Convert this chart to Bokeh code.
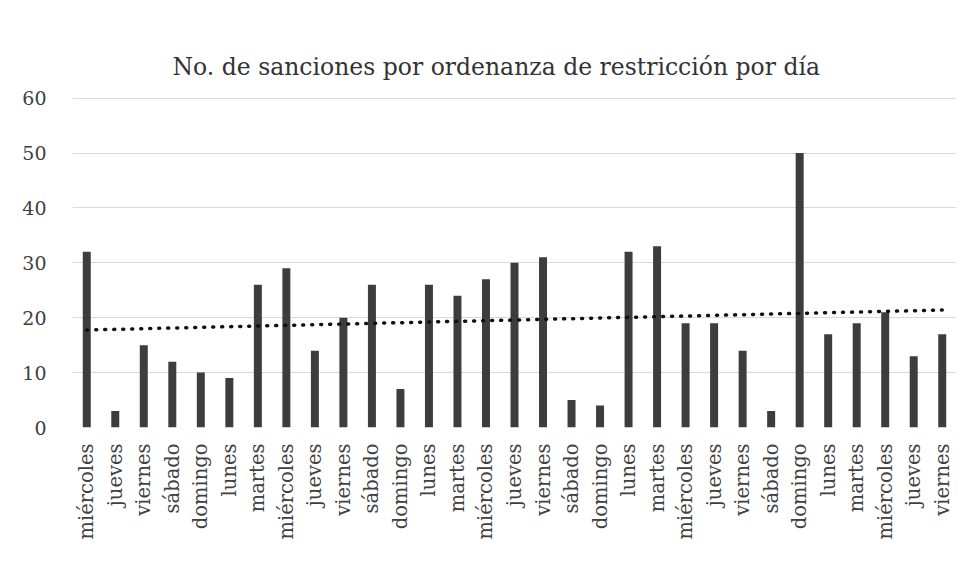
import numpy as np
from bokeh.plotting import figure
from bokeh.models import FixedTicker, ColumnDataSource
from bokeh.embed import file_html
from bokeh.resources import INLINE

days = ["miércoles", "jueves", "viernes", "sábado", "domingo", "lunes", "martes",
        "miércoles", "jueves", "viernes", "sábado", "domingo", "lunes", "martes",
        "miércoles", "jueves", "viernes", "sábado", "domingo", "lunes", "martes",
        "miércoles", "jueves", "viernes", "sábado", "domingo", "lunes", "martes",
        "miércoles", "jueves", "viernes"]
sanciones = [32, 3, 15, 12, 10, 9, 26, 29, 14, 20, 26, 7, 26, 24, 27, 30, 31,
             5, 4, 32, 33, 19, 19, 14, 3, 50, 17, 19, 21, 13, 17]
y_ticks = [0, 10, 20, 30, 40, 50, 60]

x = list(range(len(days)))
src = ColumnDataSource(dict(x=x, y=sanciones))

# linear trend line (as in a spreadsheet trendline)
slope, intercept = np.polyfit(x, sanciones, 1)
trend_x = [x[0], x[-1]]
trend_y = [intercept + slope * xi for xi in trend_x]

FONT = "DejaVu Serif"

p = figure(width=956, height=549, output_backend="svg", toolbar_location=None,
           x_range=(-0.5, len(days) - 0.5), y_range=(0, 60.3),
           min_border_left=72, min_border_right=0, min_border_top=96,
           min_border_bottom=122, background_fill_color="white",
           border_fill_color="white", outline_line_color=None,
           title="No. de sanciones por ordenanza de restricción por día")

p.title.text_font = FONT
p.title.text_font_size = "23.5px"
p.title.text_font_style = "normal"
p.title.text_color = "#333333"
p.title.align = "left"
p.title.offset = 100
p.title.standoff = 32

p.vbar(x="x", top="y", width=0.28, source=src, fill_color="#3d3d3d",
       line_color=None)
p.line(trend_x, trend_y, line_color="#111111", line_width=3.5,
       line_dash="1 8", line_cap="round")

p.xgrid.grid_line_color = None
p.ygrid.grid_line_color = "#d9d9d9"
p.ygrid.grid_line_width = 1
p.yaxis.ticker = FixedTicker(ticks=y_ticks)
p.xaxis.ticker = FixedTicker(ticks=x)
p.xaxis.major_label_overrides = {i: d for i, d in enumerate(days)}
p.xaxis.major_label_orientation = np.pi / 2

for ax in (p.xaxis, p.yaxis):
    ax.axis_line_color = None
    ax.major_tick_line_color = None
    ax.minor_tick_line_color = None
    ax.major_label_text_font = FONT
    ax.major_label_text_color = "#404040"

p.xaxis.major_label_text_font_size = "19.5px"
p.yaxis.major_label_text_font_size = "19px"
p.yaxis.major_label_standoff = 20
p.xaxis.major_label_standoff = 10

open("out.html", "w").write(file_html(p, INLINE))
